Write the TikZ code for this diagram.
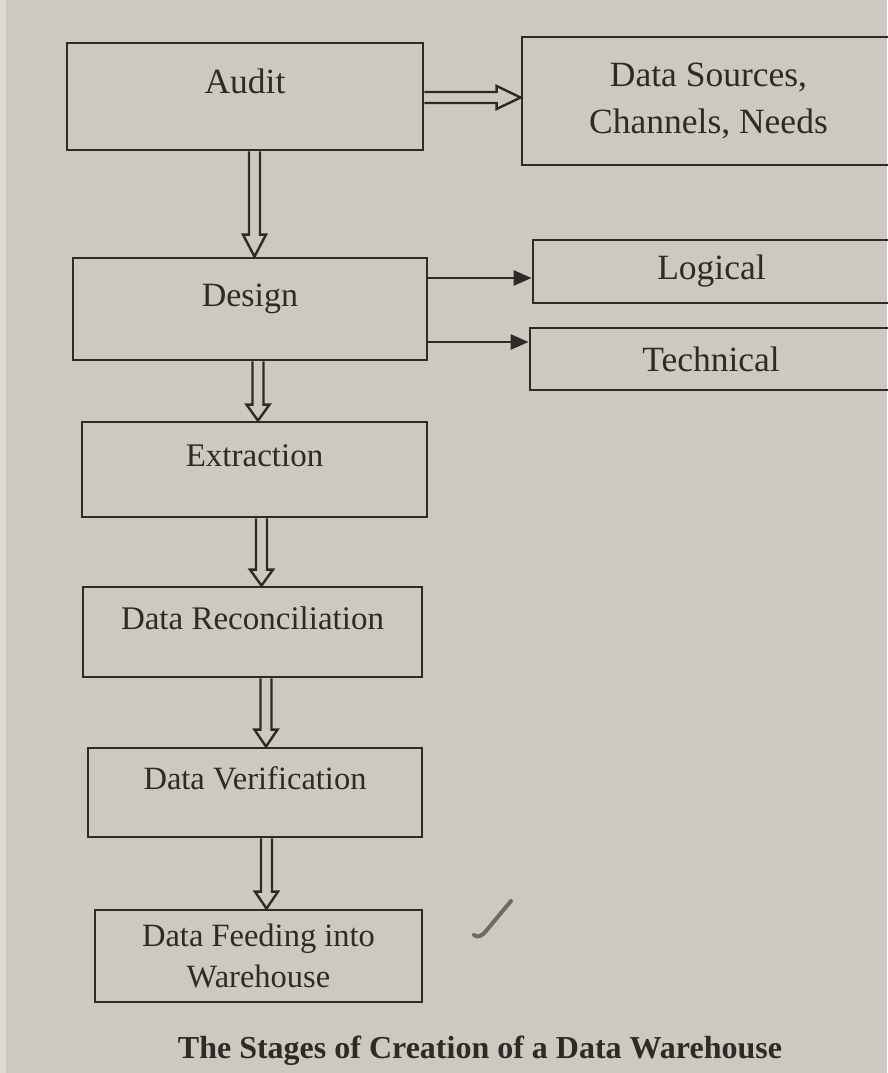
\documentclass[tikz,border=0pt]{standalone}
\usepackage{fontspec}
\setmainfont{Liberation Serif}
\usetikzlibrary{calc,arrows.meta}
\definecolor{paper}{HTML}{CDC9C1}
\definecolor{paperedge}{HTML}{DEDBD5}
\definecolor{ink}{HTML}{2E2A26}
\definecolor{pen}{HTML}{6E6964}
\newcommand{\fsz}[1]{\fontsize{#1}{#1}\selectfont}
\tikzset{
  box/.style={draw=ink, line width=2.8pt, rectangle, inner sep=0pt, text=ink, align=center},
  raised/.style={text height=24pt, text depth=30pt},
  hollowdown/.style={draw=ink, line width=2.4pt, line join=miter,
    to path={let \p1=(\tikztostart), \p2=(\tikztotarget) in
      (\x1-5.5pt,\y1) -- (\x1-5.5pt,\y2+#1pt) -- (\x1-11.5pt,\y2+#1pt) -- (\x1,\y2)
      -- (\x1+11.5pt,\y2+#1pt) -- (\x1+5.5pt,\y2+#1pt) -- (\x1+5.5pt,\y1)}},
  hollowright/.style={draw=ink, line width=2.4pt, line join=miter,
    to path={let \p1=(\tikztostart), \p2=(\tikztotarget) in
      (\x1,\y1+5.5pt) -- (\x2-#1pt,\y1+5.5pt) -- (\x2-#1pt,\y1+11.5pt) -- (\x2,\y1)
      -- (\x2-#1pt,\y1-11.5pt) -- (\x2-#1pt,\y1-5.5pt) -- (\x1,\y1-5.5pt)}},
  solidarrow/.style={draw=ink, line width=2.6pt, -{Triangle[length=18pt,width=15pt]}},
}
\begin{document}
\begin{tikzpicture}[x=1pt,y=-1pt]
\useasboundingbox (0,0) rectangle (887,1073);
\fill[paper] (0,0) rectangle (887,1073);
\fill[paperedge] (0,0) rectangle (6,1073);

% left column
\node[box, raised, minimum width=356pt, minimum height=107pt, font=\fsz{35.5}] (audit) at (245,96.5) {Audit};
\node[box, raised, minimum width=354pt, minimum height=102pt, font=\fsz{34}] (design) at (250,309) {Design};
\node[box, raised, minimum width=345pt, minimum height=95pt, font=\fsz{33}] (extraction) at (254.5,469.5) {Extraction};
\node[box, raised, minimum width=339pt, minimum height=90pt, font=\fsz{33}] (recon) at (252.5,632) {Data Reconciliation};
\node[box, raised, minimum width=334pt, minimum height=89pt, font=\fsz{32.5}] (verif) at (255,792.5) {Data Verification};
\node[box, minimum width=327pt, minimum height=92pt, font=\fsz{32.5}] (feed) at (258.5,956) {Data Feeding into\\[9pt]Warehouse};

% right column (cut off by the page edge)
\node[box, minimum width=373pt, minimum height=128pt, font=\fsz{35.5}] (sources) at (708.5,101) {Data Sources,\\[11pt]Channels, Needs};
\node[box, minimum width=357pt, minimum height=63pt, font=\fsz{35.5}] (logical) at (711.5,271.5) {Logical};
\node[box, minimum width=362pt, minimum height=62pt, font=\fsz{35.5}] (technical) at (711,359) {Technical};

% caption
\node[text=ink, font=\bfseries\fsz{32}] (caption) at (480,1051) {The Stages of Creation of a Data Warehouse};

% connectors
\coordinate (a1) at ($(audit.east)+(0,1)$);
\draw[hollowright=24] (a1) to (a1 -| sources.west);

\draw[hollowdown=22] ($(audit.south)+(9.5,0)$) to (design.north);
\draw[hollowdown=16] ($(design.south)+(8,0)$) to (extraction.north);
\draw[hollowdown=16] ($(extraction.south)+(7,0)$) to (recon.north);
\draw[hollowdown=17] ($(recon.south)+(13.5,0)$) to (verif.north);
\draw[hollowdown=17] ($(verif.south)+(11.5,0)$) to (feed.north);

\coordinate (d1) at ($(design.east)+(0,-31)$);
\coordinate (d2) at ($(design.east)+(0,33)$);
\draw[solidarrow] (d1) -- (d1 -| logical.west);
\draw[solidarrow] (d2) -- (d2 -| technical.west);

% pen mark on the page
\draw[pen, line width=4pt, line cap=round] (474,935) .. controls (478,938) and (482,936) .. (486,931) -- (511,901);
\end{tikzpicture}
\end{document}
